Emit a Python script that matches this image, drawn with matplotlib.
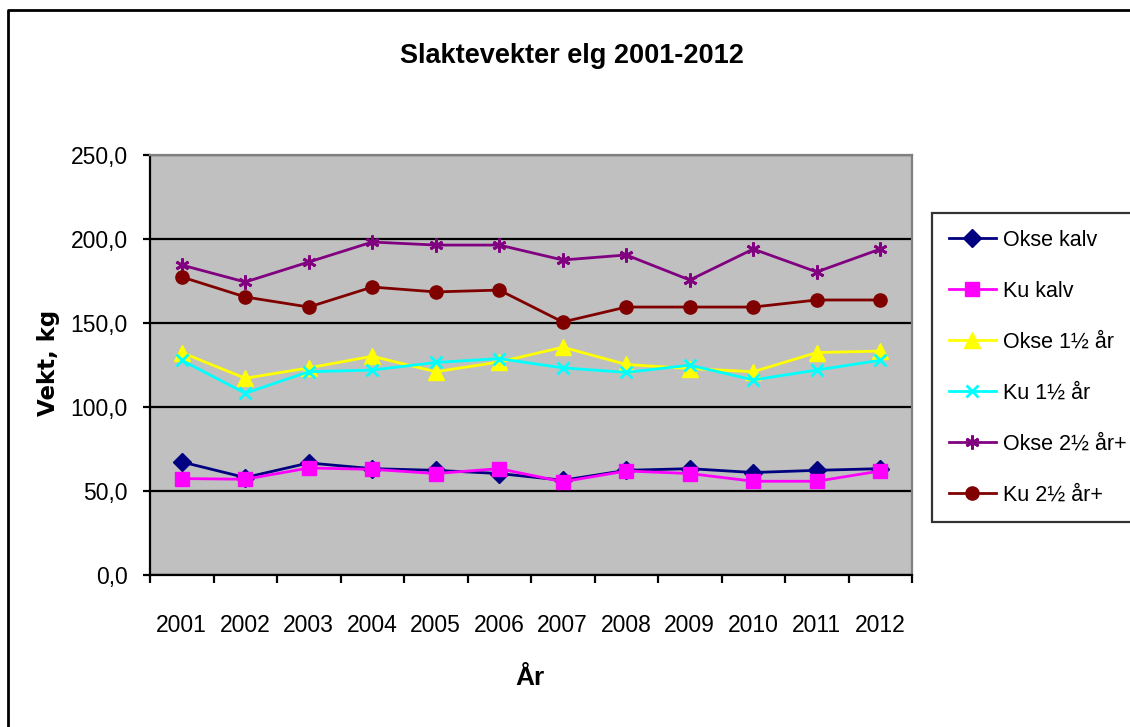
import matplotlib
matplotlib.use('Agg')
import matplotlib.pyplot as plt
from matplotlib.lines import Line2D
import numpy as np

# data
years = ['2001', '2002', '2003', '2004', '2005', '2006',
         '2007', '2008', '2009', '2010', '2011', '2012']
okse_kalv = [67.3, 58.0, 66.7, 63.3, 62.3, 60.4, 56.4, 62.3, 63.3, 61.0, 62.3, 63.3]
ku_kalv = [57.4, 57.0, 63.7, 62.9, 60.4, 63.3, 55.5, 61.9, 60.4, 55.8, 55.8, 61.9]
okse_15 = [132.4, 117.1, 123.3, 130.2, 121.0, 126.8, 135.6, 125.3, 122.9, 121.0, 132.4, 133.3]
ku_15 = [127.8, 108.2, 121.0, 122.0, 126.5, 128.8, 123.3, 120.6, 124.9, 116.1, 122.0, 127.8]
okse_25 = [184.5, 174.4, 186.3, 198.2, 196.4, 196.4, 187.5, 190.5, 175.6, 194.0, 180.4, 194.0]
ku_25 = [177.4, 165.5, 159.5, 171.4, 168.5, 169.6, 150.6, 159.5, 159.5, 159.5, 163.7, 163.7]

plt.rcParams['font.family'] = ['Liberation Sans', 'DejaVu Sans']

W, H = 1130, 727
fig = plt.figure(figsize=(W / 100, H / 100), dpi=100)

# рамка вокруг всей диаграммы (видны только левая и верхняя стороны)
fig.add_artist(Line2D([8 / W, 8 / W, 1.01], [-0.01, 1 - 10 / H, 1 - 10 / H],
                      transform=fig.transFigure, color='black', lw=2))

ax = fig.add_axes([150 / W, (H - 575) / H, (912 - 150) / W, (575 - 155) / H])
ax.set_facecolor('#C0C0C0')

x = np.arange(len(years))
series = [
    (okse_kalv, 'Okse kalv', '#000080', 'D', 9),
    (ku_kalv, 'Ku kalv', '#FF00FF', 's', 9.5),
    (okse_15, 'Okse 1½ år', '#FFFF00', '^', 11),
    (ku_15, 'Ku 1½ år', '#00FFFF', 'x', 8.5),
    (okse_25, 'Okse 2½ år+', '#800080', (6, 2, 0), 10),
    (ku_25, 'Ku 2½ år+', '#800000', 'o', 9.5),
]
for vals, name, col, mk, ms in series:
    ax.plot(x, vals, color=col, lw=2, marker=mk, ms=ms, mec=col, mfc=col,
            mew=2 if mk in ('x', (6, 2, 0)) else 1, label=name, zorder=3)

ax.set_ylim(0, 250)
ax.set_xlim(-0.5, 11.5)
ax.set_yticks(np.arange(0, 251, 50))
ax.set_yticklabels([f'{v:.1f}'.replace('.', ',') for v in np.arange(0, 251, 50)])
ax.yaxis.grid(True, color='black', lw=1.6)
ax.set_axisbelow(True)

ax.set_xticks(x)
ax.set_xticklabels(years)
ax.set_xticks(np.arange(-0.5, 12, 1), minor=True)
ax.tick_params(axis='x', which='major', length=0, pad=28, labelsize=16.5)
ax.tick_params(axis='x', which='minor', length=6, width=1.6, direction='out')
ax.tick_params(axis='y', length=5, width=1.6, direction='out', pad=11, labelsize=16.5)

for side in ['left', 'bottom']:
    ax.spines[side].set_color('black')
    ax.spines[side].set_linewidth(1.6)
for side in ['top', 'right']:
    ax.spines[side].set_color('#808080')
    ax.spines[side].set_linewidth(1.6)

fig.text(572 / W, 1 - 56 / H, 'Slaktevekter elg 2001-2012', ha='center', va='center',
         fontsize=19.5, fontweight='bold')
fig.text(48 / W, 1 - 363 / H, 'Vekt, kg', rotation=90, ha='center', va='center',
         fontsize=16.5, fontweight='bold', family='DejaVu Sans')
fig.text(530 / W, 1 - 678 / H, 'År', ha='center', va='center',
         fontsize=19, fontweight='bold')

leg = fig.legend(loc='upper left', bbox_to_anchor=(932 / W, (H - 515) / H, (1140 - 932) / W, (515 - 213) / H),
                 mode='expand', fontsize=15.5, frameon=True, fancybox=False, borderaxespad=0,
                 labelspacing=1.39, handlelength=2.2, handletextpad=0.3, borderpad=0.78)
leg.get_frame().set_edgecolor('black')
leg.get_frame().set_linewidth(1.6)

fig.savefig('out.png', dpi=100)
